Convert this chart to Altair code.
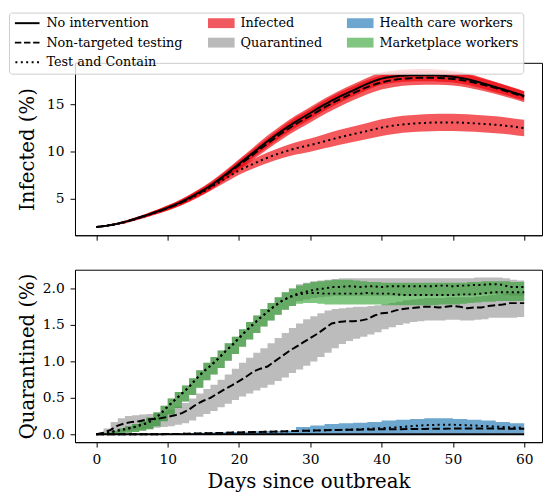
import altair as alt
import pandas as pd

FONT = "DejaVu Serif"

# ---------------- top panel: infected (%) ----------------
days_top = list(range(0, 61, 2))
inf_none = [2.0, 2.2, 2.55, 3.0, 3.5, 4.05, 4.7, 5.5, 6.4, 7.5, 8.7, 9.9, 11.1, 12.2, 13.2, 14.1,
            15.0, 15.8, 16.5, 17.2, 17.75, 18.0, 18.1, 18.12, 18.08, 17.95, 17.7, 17.3, 16.85, 16.4, 15.92]
inf_none_lo = [1.95, 2.12, 2.43, 2.85, 3.3, 3.8, 4.4, 5.15, 6.0, 7.05, 8.2, 9.35, 10.5, 11.58, 12.55, 13.45,
               14.35, 15.15, 15.85, 16.55, 17.1, 17.35, 17.45, 17.47, 17.43, 17.33, 17.1, 16.72, 16.3, 15.88, 15.42]
inf_none_hi = [2.05, 2.28, 2.67, 3.15, 3.7, 4.3, 5.0, 5.85, 6.8, 7.95, 9.2, 10.45, 11.7, 12.82, 13.85, 14.75,
               15.65, 16.45, 17.15, 17.85, 18.4, 18.65, 18.75, 18.77, 18.73, 18.57, 18.3, 17.88, 17.4, 16.92, 16.42]
inf_nt = [2.0, 2.2, 2.55, 3.0, 3.5, 4.0, 4.65, 5.45, 6.3, 7.4, 8.55, 9.7, 10.85, 11.95, 12.95, 13.8,
          14.7, 15.5, 16.2, 16.85, 17.35, 17.65, 17.8, 17.85, 17.83, 17.72, 17.5, 17.15, 16.75, 16.3, 15.83]
inf_nt_lo = [1.95, 2.12, 2.43, 2.85, 3.3, 3.75, 4.35, 5.1, 5.9, 6.95, 8.05, 9.15, 10.25, 11.3, 12.25, 13.1,
             13.98, 14.75, 15.45, 16.1, 16.6, 16.9, 17.05, 17.1, 17.11, 17.02, 16.82, 16.5, 16.13, 15.7, 15.25]
inf_nt_hi = [2.05, 2.28, 2.67, 3.15, 3.7, 4.25, 4.95, 5.8, 6.7, 7.85, 9.05, 10.25, 11.45, 12.6, 13.65, 14.5,
             15.42, 16.25, 16.95, 17.6, 18.1, 18.4, 18.55, 18.6, 18.55, 18.42, 18.18, 17.8, 17.37, 16.9, 16.41]
inf_tc = [2.0, 2.2, 2.5, 2.95, 3.45, 4.0, 4.6, 5.35, 6.2, 7.1, 8.0, 8.7, 9.35, 9.9, 10.35, 10.7,
          11.1, 11.5, 11.85, 12.2, 12.55, 12.8, 12.95, 13.05, 13.1, 13.1, 13.05, 12.95, 12.85, 12.7, 12.5]
inf_tc_lo = [1.95, 2.12, 2.38, 2.8, 3.25, 3.75, 4.3, 5.02, 5.84, 6.7, 7.55, 8.2, 8.8, 9.3, 9.7, 10.0,
             10.35, 10.7, 11.03, 11.35, 11.67, 11.9, 12.05, 12.13, 12.18, 12.18, 12.13, 12.05, 11.95, 11.82, 11.62]
inf_tc_hi = [2.05, 2.28, 2.62, 3.1, 3.65, 4.25, 4.9, 5.68, 6.56, 7.5, 8.45, 9.2, 9.9, 10.5, 11.0, 11.4,
             11.85, 12.3, 12.67, 13.05, 13.43, 13.7, 13.85, 13.97, 14.02, 14.02, 13.97, 13.85, 13.75, 13.58, 13.38]

# ---------------- bottom panel: quarantined (%) ----------------
days_q = list(range(0, 61))
q_nt = [0.0, 0.02, 0.06, 0.12, 0.15, 0.17, 0.18, 0.2, 0.21, 0.22,
        0.24, 0.26, 0.29, 0.34, 0.41, 0.46, 0.5, 0.56, 0.62, 0.67,
        0.73, 0.79, 0.86, 0.9, 0.93, 1.0, 1.07, 1.14, 1.2, 1.26,
        1.32, 1.38, 1.45, 1.52, 1.54, 1.55, 1.55, 1.56, 1.58, 1.63,
        1.66, 1.67, 1.7, 1.72, 1.73, 1.74, 1.75, 1.75, 1.74, 1.75,
        1.76, 1.75, 1.73, 1.74, 1.74, 1.76, 1.77, 1.78, 1.8, 1.8, 1.8]
q_nt_lo = [0.0, 0.0, 0.01, 0.03, 0.05, 0.06, 0.07, 0.08, 0.09, 0.1,
           0.11, 0.13, 0.15, 0.19, 0.24, 0.28, 0.32, 0.37, 0.42, 0.47,
           0.52, 0.56, 0.6, 0.64, 0.68, 0.73, 0.78, 0.84, 0.89, 0.94,
           1.0, 1.06, 1.12, 1.18, 1.24, 1.28, 1.31, 1.34, 1.37, 1.4,
           1.44, 1.47, 1.5, 1.52, 1.54, 1.55, 1.56, 1.56, 1.56, 1.57,
           1.57, 1.56, 1.56, 1.57, 1.58, 1.6, 1.6, 1.6, 1.6, 1.61, 1.61]
q_nt_hi = [0.0, 0.08, 0.17, 0.22, 0.25, 0.26, 0.27, 0.28, 0.3, 0.31,
           0.34, 0.38, 0.43, 0.49, 0.56, 0.62, 0.68, 0.75, 0.82, 0.9,
           0.98, 1.05, 1.12, 1.18, 1.25, 1.32, 1.39, 1.46, 1.52, 1.58,
           1.62, 1.66, 1.7, 1.72, 1.73, 1.74, 1.75, 1.75, 1.76, 1.77,
           1.78, 1.8, 1.82, 1.84, 1.85, 1.86, 1.87, 1.87, 1.87, 1.88,
           1.88, 1.88, 1.88, 1.89, 1.9, 1.91, 1.92, 1.93, 1.94, 1.95, 1.95]
q_tc = [0.0, 0.01, 0.03, 0.05, 0.07, 0.09, 0.12, 0.15, 0.2, 0.28,
        0.38, 0.47, 0.56, 0.65, 0.76, 0.86, 0.94, 1.03, 1.13, 1.22,
        1.32, 1.42, 1.51, 1.6, 1.68, 1.76, 1.83, 1.88, 1.92, 1.95,
        1.97, 1.99, 2.0, 2.02, 2.02, 2.03, 2.03, 2.02, 2.03, 2.03,
        2.02, 2.03, 2.03, 2.03, 2.03, 2.03, 2.03, 2.03, 2.04, 2.04,
        2.03, 2.04, 2.04, 2.05, 2.05, 2.06, 2.06, 2.05, 2.02, 2.02, 2.02]
q_tc_lo = [0.0, 0.0, 0.0, 0.01, 0.02, 0.03, 0.05, 0.07, 0.11, 0.18,
           0.27, 0.36, 0.45, 0.54, 0.64, 0.74, 0.82, 0.91, 1.01, 1.1,
           1.2, 1.3, 1.39, 1.48, 1.56, 1.64, 1.71, 1.76, 1.83, 1.85,
           1.87, 1.88, 1.89, 1.9, 1.9, 1.9, 1.9, 1.9, 1.9, 1.9,
           1.9, 1.9, 1.9, 1.9, 1.9, 1.9, 1.9, 1.9, 1.9, 1.9,
           1.9, 1.9, 1.9, 1.91, 1.92, 1.92, 1.92, 1.91, 1.9, 1.9, 1.9]
q_tc_hi = [0.0, 0.02, 0.05, 0.08, 0.11, 0.14, 0.18, 0.23, 0.3, 0.39,
           0.49, 0.58, 0.67, 0.77, 0.88, 0.98, 1.06, 1.15, 1.25, 1.34,
           1.44, 1.54, 1.63, 1.72, 1.8, 1.88, 1.95, 2.0, 2.06, 2.08,
           2.1, 2.11, 2.12, 2.13, 2.14, 2.14, 2.14, 2.14, 2.14, 2.14,
           2.14, 2.14, 2.14, 2.14, 2.14, 2.14, 2.14, 2.14, 2.14, 2.14,
           2.14, 2.14, 2.14, 2.15, 2.15, 2.15, 2.15, 2.14, 2.12, 2.11, 2.1]
q_mw = [0.0, 0.01, 0.03, 0.05, 0.07, 0.09, 0.12, 0.15, 0.2, 0.28,
        0.38, 0.47, 0.56, 0.65, 0.76, 0.86, 0.94, 1.03, 1.13, 1.22,
        1.32, 1.42, 1.51, 1.6, 1.68, 1.76, 1.83, 1.88, 1.91, 1.93,
        1.94, 1.94, 1.93, 1.93, 1.93, 1.93, 1.93, 1.93, 1.94, 1.93,
        1.93, 1.93, 1.92, 1.91, 1.91, 1.91, 1.91, 1.91, 1.91, 1.91,
        1.91, 1.92, 1.92, 1.92, 1.93, 1.94, 1.95, 1.95, 1.95, 1.95, 1.95]
q_mw_lo = [0.0, 0.0, 0.0, 0.01, 0.02, 0.03, 0.05, 0.07, 0.11, 0.18,
           0.27, 0.36, 0.45, 0.54, 0.64, 0.74, 0.82, 0.91, 1.01, 1.1,
           1.2, 1.3, 1.39, 1.48, 1.56, 1.64, 1.71, 1.76, 1.79, 1.8,
           1.8, 1.79, 1.78, 1.78, 1.78, 1.78, 1.78, 1.78, 1.78, 1.78,
           1.77, 1.77, 1.77, 1.77, 1.77, 1.77, 1.77, 1.77, 1.78, 1.78,
           1.78, 1.79, 1.8, 1.81, 1.82, 1.82, 1.83, 1.83, 1.83, 1.83, 1.83]
q_mw_hi = [0.0, 0.02, 0.05, 0.08, 0.11, 0.14, 0.18, 0.23, 0.3, 0.39,
           0.49, 0.58, 0.67, 0.77, 0.88, 0.98, 1.06, 1.15, 1.25, 1.34,
           1.44, 1.54, 1.63, 1.72, 1.8, 1.88, 1.95, 2.0, 2.04, 2.07,
           2.09, 2.1, 2.11, 2.12, 2.12, 2.12, 2.11, 2.1, 2.09, 2.09,
           2.08, 2.08, 2.08, 2.08, 2.08, 2.08, 2.08, 2.08, 2.08, 2.08,
           2.08, 2.08, 2.09, 2.09, 2.1, 2.1, 2.1, 2.1, 2.09, 2.09, 2.09]

days_h = list(range(0, 61, 2))
q_none = [0.0, 0.0, 0.0, 0.0, 0.0, 0.0, 0.0, 0.0, 0.0, 0.0, 0.0, 0.0, 0.0, 0.0, 0.0, 0.0,
          0.0, 0.0, 0.0, 0.0, 0.0, 0.0, 0.0, 0.0, 0.0, 0.0, 0.0, 0.0, 0.0, 0.0, 0.0]
hcw_nt = [0.0, 0.0, 0.0, 0.0, 0.0, 0.003, 0.006, 0.01, 0.015, 0.02, 0.025, 0.03, 0.035, 0.04, 0.045, 0.05,
          0.055, 0.06, 0.062, 0.065, 0.068, 0.07, 0.072, 0.074, 0.076, 0.078, 0.078, 0.078, 0.078, 0.076, 0.075]
hcw_tc = [0.0, 0.0, 0.0, 0.0, 0.0, 0.003, 0.006, 0.01, 0.015, 0.02, 0.025, 0.03, 0.035, 0.04, 0.045, 0.05,
          0.055, 0.06, 0.065, 0.075, 0.085, 0.095, 0.11, 0.125, 0.13, 0.13, 0.125, 0.115, 0.105, 0.095, 0.088]
hcw_lo = [0.0, 0.0, 0.0, 0.0, 0.0, 0.0, 0.0, 0.0, 0.0, 0.0, 0.0, 0.0, 0.0, 0.0, 0.005, 0.008,
          0.01, 0.012, 0.012, 0.012, 0.012, 0.012, 0.012, 0.012, 0.012, 0.012, 0.012, 0.012, 0.012, 0.012, 0.012]
hcw_hi = [0.0, 0.002, 0.004, 0.006, 0.008, 0.01, 0.015, 0.02, 0.025, 0.03, 0.035, 0.04, 0.045, 0.05, 0.1, 0.12,
          0.14, 0.15, 0.16, 0.17, 0.19, 0.2, 0.21, 0.22, 0.22, 0.21, 0.2, 0.19, 0.17, 0.15, 0.14]

# ---------------- legend entries (row by row, 3 columns) ----------------
scenarios = ["No intervention", "Non-targeted testing", "Test and Contain"]
legend_entries = ["No intervention", "Infected", "Health care workers",
                  "Non-targeted testing", "Quarantined", "Marketplace workers",
                  "Test and Contain"]

# styles
RED = "#ee0008"
GRAY = "#808080"
GREEN = "#2ca02c"
BLUE = "#1f77b4"
LW = 2
dash_range = [[1, 0], [7.7, 3.3], [2.1, 3.4]]

def rect(x0, x1, h):
    return f"M{x0:.2f},{-h:.2f}H{x1:.2f}V{h:.2f}H{x0:.2f}Z"

SWATCH = rect(-2.7, 2.7, 1.0)
SOLID = rect(-2.5, 2.5, 0.2)
DASHED = " ".join(rect(a, b, 0.2) for a, b in [(-2.5, -1.2), (-0.65, 0.65), (1.2, 2.5)])
DOTTED = " ".join(rect(c - 0.2, c + 0.2, 0.2) for c in [-2.2, -1.1, 0.0, 1.1, 2.2])
legend_shapes = [SOLID, SWATCH, SWATCH, DASHED, SWATCH, SWATCH, DOTTED]
legend_colors = ["black", "#f0595f", "#6da6ce", "black", "#bababa", "#80c680", "black"]

# ---------------- data frames ----------------
top_rows = []
for name, mid, lo, hi in [("No intervention", inf_none, inf_none_lo, inf_none_hi),
                          ("Non-targeted testing", inf_nt, inf_nt_lo, inf_nt_hi),
                          ("Test and Contain", inf_tc, inf_tc_lo, inf_tc_hi)]:
    for d, m, l, h in zip(days_top, mid, lo, hi):
        top_rows.append({"day": d, "mid": m, "lo": l, "hi": h, "scenario": name})
top_df = pd.DataFrame(top_rows)


def band_df(days, lo, hi):
    return pd.DataFrame({"day": days, "lo": lo, "hi": hi})


line_rows = []
for series, scen, days, vals in [("nt", "Non-targeted testing", days_q, q_nt),
                                 ("tc", "Test and Contain", days_q, q_tc),
                                 ("mw", "Test and Contain", days_q, q_mw),
                                 ("hnt", "Non-targeted testing", days_h, hcw_nt),
                                 ("htc", "Test and Contain", days_h, hcw_tc),
                                 ("none", "No intervention", days_h, q_none)]:
    for d, v in zip(days, vals):
        line_rows.append({"day": d, "val": v, "series": series, "scenario": scen})
q_lines_df = pd.DataFrame(line_rows)

# ---------------- scales / axes ----------------
xscale = alt.Scale(domain=[-3, 62.5], nice=False, zero=False)
day_ticks = [0, 10, 20, 30, 40, 50, 60]
dash_scale = alt.Scale(domain=scenarios, range=dash_range)

x_top = alt.X("day:Q", scale=xscale,
              axis=alt.Axis(values=day_ticks, labels=False, title=None))
x_bot = alt.X("day:Q", scale=xscale,
              axis=alt.Axis(values=day_ticks, format="d", title="Days since outbreak",
                            labelPadding=6, titlePadding=5))

y_top_scale = alt.Scale(domain=[1.12, 19.43], nice=False, zero=False)
y_bot_scale = alt.Scale(domain=[-0.108, 2.258], nice=False, zero=False)
y_top_axis = alt.Axis(values=[5, 10, 15], title="Infected (%)", minExtent=26, maxExtent=26,
                      titlePadding=12, labelPadding=6)
y_bot_axis = alt.Axis(values=[0, 0.5, 1.0, 1.5, 2.0], format=".1f", title="Quarantined (%)",
                      minExtent=26, maxExtent=26, titlePadding=12, labelPadding=6)

# ---------------- top panel ----------------
top_bands = alt.Chart(top_df).mark_area(opacity=0.65, color=RED, interpolate="monotone").encode(
    x=x_top,
    y=alt.Y("lo:Q", scale=y_top_scale, axis=y_top_axis),
    y2="hi:Q",
    detail="scenario:N",
)
top_lines = alt.Chart(top_df).mark_line(color="black", strokeWidth=LW, interpolate="monotone").encode(
    x=x_top,
    y=alt.Y("mid:Q", scale=y_top_scale, axis=y_top_axis),
    strokeDash=alt.StrokeDash("scenario:N", scale=dash_scale, legend=None),
)

leg = alt.Legend(orient="none", legendX=-67, legendY=-51, columns=3, direction="horizontal",
                 title=None, labelFont=FONT, labelFontSize=13, labelColor="black", labelLimit=400,
                 symbolSize=100, symbolStrokeWidth=0, symbolOpacity=1,
                 symbolOffset=8, labelOffset=13, rowPadding=6, columnPadding=24,
                 strokeColor="#cccccc", fillColor="rgba(255,255,255,0.8)",
                 padding=4, cornerRadius=3)
legend_layer = alt.Chart(pd.DataFrame({"entry": legend_entries})).mark_point(
    filled=True, opacity=1
).encode(
    shape=alt.Shape("entry:N", scale=alt.Scale(domain=legend_entries, range=legend_shapes), legend=leg),
    color=alt.Color("entry:N", scale=alt.Scale(domain=legend_entries, range=legend_colors), legend=leg),
).transform_filter("false")

top = alt.layer(top_bands, top_lines, legend_layer).properties(width=474, height=175)

# ---------------- bottom panel ----------------
def band(days, lo, hi, color, opacity):
    return alt.Chart(band_df(days, lo, hi)).mark_area(
        color=color, opacity=opacity, interpolate="step-after"
    ).encode(
        x=x_bot,
        y=alt.Y("lo:Q", scale=y_bot_scale, axis=y_bot_axis),
        y2="hi:Q",
    )

bot_bands = [
    band(days_q, q_nt_lo, q_nt_hi, GRAY, 0.53),
    band(days_q, q_tc_lo, q_tc_hi, GRAY, 0.53),
    band(days_q, q_mw_lo, q_mw_hi, GREEN, 0.6),
    band(days_h, hcw_lo, hcw_hi, BLUE, 0.65),
]
bot_lines = alt.Chart(q_lines_df).mark_line(color="black", strokeWidth=LW).encode(
    x=x_bot,
    y=alt.Y("val:Q", scale=y_bot_scale, axis=y_bot_axis),
    strokeDash=alt.StrokeDash("scenario:N", scale=dash_scale, legend=None),
    detail="series:N",
)
bottom = alt.layer(*bot_bands, bot_lines).properties(width=474, height=175)

chart = alt.vconcat(top, bottom, spacing=35, bounds="flush").resolve_scale(
    shape="independent", color="independent"
).resolve_legend(shape="independent", color="independent").properties(
    padding={"left": 0, "top": 0, "right": 0, "bottom": 0}
).configure_axis(
    labelFont=FONT, titleFont=FONT, labelFontSize=14, titleFontSize=20,
    titleFontWeight="normal", labelColor="black", titleColor="black",
    domainColor="black", tickColor="black", grid=False, tickSize=5,
    domainWidth=1, tickWidth=1,
).configure_view(stroke="black", strokeWidth=1)

chart.save("out.html", embed_options={"renderer": "svg", "actions": False})
